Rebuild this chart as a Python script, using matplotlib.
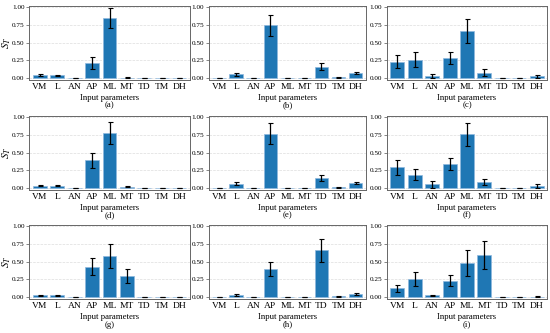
import matplotlib
matplotlib.use("Agg")
import matplotlib.pyplot as plt
import numpy as np

params = ["VM", "L", "AN", "AP", "ML", "MT", "TD", "TM", "DH"]
panel_labels = ["(a)", "(b)", "(c)", "(d)", "(e)", "(f)", "(g)", "(h)", "(i)"]

st_a = [0.04, 0.035, 0.0, 0.21, 0.85, 0.005, 0.0, 0.0, 0.0]
err_a = [0.012, 0.012, 0.003, 0.08, 0.14, 0.003, 0.002, 0.002, 0.002]
st_b = [0.0, 0.05, 0.0, 0.75, 0.0, 0.0, 0.16, 0.01, 0.07]
err_b = [0.002, 0.02, 0.002, 0.15, 0.002, 0.002, 0.05, 0.005, 0.02]
st_c = [0.23, 0.26, 0.03, 0.28, 0.67, 0.07, 0.0, 0.0, 0.02]
err_c = [0.09, 0.11, 0.03, 0.09, 0.17, 0.05, 0.002, 0.002, 0.02]
st_d = [0.03, 0.03, 0.0, 0.39, 0.78, 0.015, 0.0, 0.0, 0.0]
err_d = [0.01, 0.01, 0.002, 0.11, 0.16, 0.006, 0.002, 0.002, 0.002]
st_e = [0.0, 0.06, 0.0, 0.77, 0.0, 0.0, 0.14, 0.01, 0.07]
err_e = [0.002, 0.02, 0.002, 0.15, 0.002, 0.002, 0.045, 0.005, 0.02]
st_f = [0.29, 0.19, 0.05, 0.34, 0.76, 0.08, 0.0, 0.0, 0.03]
err_f = [0.11, 0.08, 0.045, 0.09, 0.16, 0.045, 0.002, 0.002, 0.025]
st_g = [0.02, 0.02, 0.0, 0.43, 0.58, 0.30, 0.0, 0.0, 0.0]
err_g = [0.006, 0.01, 0.002, 0.12, 0.17, 0.10, 0.002, 0.002, 0.002]
st_h = [0.0, 0.03, 0.0, 0.40, 0.0, 0.0, 0.66, 0.01, 0.04]
err_h = [0.002, 0.012, 0.002, 0.10, 0.002, 0.002, 0.16, 0.005, 0.015]
st_i = [0.12, 0.25, 0.02, 0.23, 0.48, 0.60, 0.0, 0.0, 0.005]
err_i = [0.055, 0.10, 0.01, 0.08, 0.19, 0.20, 0.002, 0.002, 0.006]

values = [st_a, st_b, st_c, st_d, st_e, st_f, st_g, st_h, st_i]
errors = [err_a, err_b, err_c, err_d, err_e, err_f, err_g, err_h, err_i]

plt.rcParams['font.family'] = ['Liberation Serif', 'DejaVu Serif']
plt.rcParams['mathtext.fontset'] = 'stix'

fig = plt.figure(figsize=(5.5, 3.33), dpi=100)
col_left = [0.0536, 0.380, 0.7036]
col_w = [0.291, 0.285, 0.291]
row_bottom = [0.7598, 0.4294, 0.1021]
h = 0.222

x = np.arange(len(params))
for k in range(9):
    r, c = divmod(k, 3)
    ax = fig.add_axes([col_left[c], row_bottom[r], col_w[c], h])
    ax.set_axisbelow(True)
    ax.yaxis.grid(True, color="#dddddd", linestyle="--", linewidth=0.5)
    ax.bar(x, values[k], width=0.8, color="#1f77b4", edgecolor="#8fb8de",
           linewidth=0.5, yerr=errors[k], capsize=1.8,
           error_kw=dict(ecolor="black", elinewidth=0.9, capthick=0.8))
    ax.set_ylim(-0.03, 1.02)
    ax.set_xlim(-0.6, 8.6)
    ax.set_yticks([0, 0.25, 0.5, 0.75, 1.0])
    ax.set_yticklabels(["0.00", "0.25", "0.50", "0.75", "1.00"])
    ax.set_xticks(x)
    ax.set_xticklabels(params)
    ax.tick_params(axis="y", labelsize=5.2, length=2, width=0.5, pad=1.5, color="#555555")
    ax.tick_params(axis="x", labelsize=6.8, length=0, pad=2.5)
    for s in ax.spines.values():
        s.set_color("#666666")
        s.set_linewidth(0.7)
    ax.set_xlabel("Input parameters\n" + panel_labels[k], fontsize=6.3,
                  labelpad=1.8, linespacing=0.95)
    if c == 0:
        ax.set_ylabel(r"$S_T$", fontsize=8)
        ax.yaxis.set_label_coords(-0.105, 0.5)

fig.savefig("out.png", dpi=100)
